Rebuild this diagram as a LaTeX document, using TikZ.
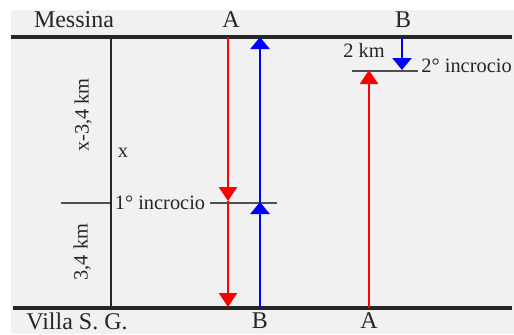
\documentclass[tikz,border=0pt]{standalone}
\usepackage{fontspec}
\setmainfont{Liberation Serif}
\usetikzlibrary{arrows.meta}

\definecolor{bggray}{RGB}{241,241,241}
\definecolor{crossgray}{RGB}{80,80,80}

\begin{document}
\begin{tikzpicture}[
  x=0.5pt, y=-0.5pt,
  shore/.style={line width=1.8pt, black!85},
  axis/.style={line width=0.8pt, black!85},
  cross/.style={line width=1pt, crossgray},
  ferryA/.style={line width=1.3pt, red, -{Triangle[width=9pt,length=7pt]}},
  ferryB/.style={line width=1.3pt, blue, -{Triangle[width=9.5pt,length=6pt]}},
  big/.style={font=\rmfamily\fontsize{12}{14}\selectfont, text=black!85, inner sep=0pt},
  small/.style={font=\rmfamily\fontsize{10.2}{12}\selectfont, text=black!85, inner sep=2pt},
]
\useasboundingbox (0,0) rectangle (514,334);
\fill[bggray] (11,10) rectangle (514,334);

% ================= COORDINATES (px) =================
\coordinate (messW)   at (11,37);
\coordinate (messE)   at (512,37);
\coordinate (villaW)  at (13,308);
\coordinate (villaE)  at (512,308);
\coordinate (axTop)   at (111,37);
\coordinate (axBot)   at (111,308);

\coordinate (aTop)    at (228,37);
\coordinate (aCross)  at (228,201);
\coordinate (aBot)    at (228,307);
\coordinate (bBot)    at (260,308);
\coordinate (bCross)  at (260,202);
\coordinate (bTop)    at (260,37);
\coordinate (cross1W) at (61,203);
\coordinate (cross1E) at (277,203);

\coordinate (a2Bot)   at (369,308);
\coordinate (a2Top)   at (369,70);
\coordinate (b2Top)   at (402,37);
\coordinate (b2Bot)   at (402,70);
\coordinate (cross2W) at (352,70.5);
\coordinate (cross2E) at (418,70.5);

% ================= NODES =================
\node[big]   (messina) at (74,20)   {Messina};
\node[big]   (aTopL)   at (231,20)  {A};
\node[big]   (bTopL)   at (403,20)  {B};
\node[big]   (villa)   at (77,321)  {Villa S. G.};
\node[big]   (bBotL)   at (260,321) {B};
\node[big]   (aBotL)   at (369,321) {A};

\node[small]                 (inc1)   at (160,203)  {1° incrocio};
\node[small, anchor=west]    (inc2)   at (417,66)   {2° incrocio};
\node[small]                 (twokm)  at (364,50)   {2 km};
\node[small]                 (xlbl)   at (123,153)  {x};
\node[small, rotate=90]      (lenUp)  at (83,115)   {x-3,4 km};
\node[small, rotate=90]      (lenLow) at (82,252)   {3,4 km};

% ================= LINES =================
\draw[shore] (messW) -- (messE);
\draw[shore] (villaW) -- (villaE);
\draw[axis] (axTop) -- (axBot);

\draw[cross] (cross1W) -- (inc1.west);
\draw[cross] (inc1.east) -- (cross1E);
\draw[cross] (cross2W) -- (cross2E);

% ================= FERRIES =================
\draw[ferryA] (aTop) -- (aCross);
\draw[ferryA] (aCross) -- (aBot);
\draw[ferryB] (bBot) -- (bCross);
\draw[ferryB] (bCross) -- (bTop);

\draw[ferryA] (a2Bot) -- (a2Top);
\draw[ferryB] (b2Top) -- (b2Bot);

\end{tikzpicture}
\end{document}
